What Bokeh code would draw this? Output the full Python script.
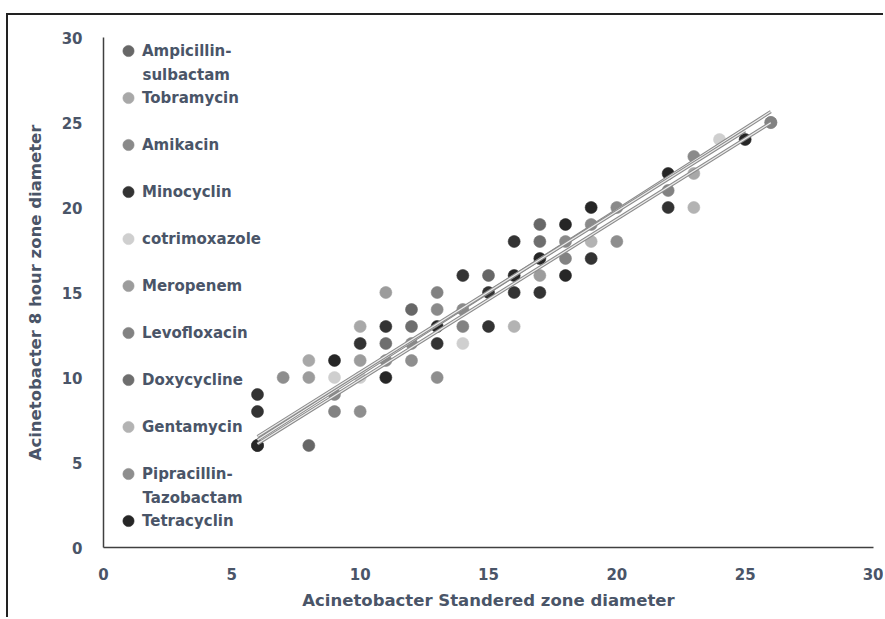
import numpy as np
from bokeh.plotting import figure
from bokeh.models import Range1d, Legend, LegendItem, Label, FixedTicker
from bokeh.embed import file_html
from bokeh.resources import INLINE

# ---------------- data ----------------
series_names = ["Ampicillin-sulbactam", "Tobramycin", "Amikacin", "Minocyclin",
                "cotrimoxazole", "Meropenem", "Levofloxacin", "Doxycycline",
                "Gentamycin", "Pipracillin-Tazobactam", "Tetracyclin"]
legend_first_lines = ["Ampicillin-", "Tobramycin", "Amikacin", "Minocyclin",
                      "cotrimoxazole", "Meropenem", "Levofloxacin", "Doxycycline",
                      "Gentamycin", "Pipracillin-", "Tetracyclin"]
legend_second_lines = {0: "sulbactam", 9: "Tazobactam"}

amp_x = [8, 12, 15, 17]
amp_y = [6, 14, 16, 19]
tob_x = [8, 10, 23]
tob_y = [11, 13, 22]
ami_x = [6, 9, 11, 12, 13, 14, 18, 19, 20, 23, 26]
ami_y = [6, 9, 11, 12, 14, 14, 18, 19, 20, 23, 25]
min_x = [6, 6, 10, 11, 13, 14, 15, 15, 16, 16, 17, 19, 22]
min_y = [8, 9, 12, 13, 12, 16, 13, 15, 15, 18, 15, 17, 20]
cot_x = [9, 10, 14, 24]
cot_y = [10, 10, 12, 24]
mer_x = [8, 10, 11, 17]
mer_y = [10, 11, 15, 16]
lev_x = [6, 9, 13, 14, 18, 22, 26]
lev_y = [6, 8, 15, 13, 17, 21, 25]
dox_x = [11, 12, 17]
dox_y = [12, 13, 18]
gen_x = [16, 19, 23]
gen_y = [13, 18, 20]
pip_x = [7, 10, 12, 13, 20]
pip_y = [10, 8, 11, 10, 18]
tet_x = [6, 9, 11, 13, 16, 17, 18, 18, 19, 22, 25]
tet_y = [6, 11, 10, 13, 16, 17, 16, 19, 20, 22, 24]

xs = [amp_x, tob_x, ami_x, min_x, cot_x, mer_x, lev_x, dox_x, gen_x, pip_x, tet_x]
ys = [amp_y, tob_y, ami_y, min_y, cot_y, mer_y, lev_y, dox_y, gen_y, pip_y, tet_y]
colors = ["#676767", "#a8a8a8", "#8a8a8a", "#333333", "#cfcfcf", "#9c9c9c",
          "#828282", "#6e6e6e", "#b3b3b3", "#8e8e8e", "#262626"]
trend_series = ["Amikacin", "Levofloxacin", "Tetracyclin"]

x_ticks = [0, 5, 10, 15, 20, 25, 30]
y_ticks = [0, 5, 10, 15, 20, 25, 30]

# ---------------- layout constants ----------------
OFF_X, OFF_Y = 8, 15          # outer picture frame (margin + 2px border)
W, H = 885 - OFF_X, 619 - OFF_Y
LEFT, RIGHT, TOP, BOTTOM = 103 - OFF_X, 12, 37 - OFF_Y, 72
TXT = "#4a5568"
FONT = "DejaVu Sans"

p = figure(width=W, height=H, output_backend="svg", toolbar_location=None,
           x_range=Range1d(0, 30), y_range=Range1d(0, 30),
           min_border_left=LEFT, min_border_right=RIGHT,
           min_border_top=TOP, min_border_bottom=BOTTOM,
           background_fill_color="white", border_fill_color="white",
           styles={"margin-left": "6px", "margin-top": "13px",
                   "border-left": "2px solid #222222",
                   "border-top": "2px solid #222222"})
p.outline_line_color = None
p.grid.visible = False

for ax, ticks in ((p.xaxis[0], x_ticks), (p.yaxis[0], y_ticks)):
    ax.ticker = FixedTicker(ticks=ticks)
    ax.major_tick_line_color = None
    ax.minor_tick_line_color = None
    ax.major_tick_out = 0
    ax.major_tick_in = 0
    ax.axis_line_color = "#404040"
    ax.axis_line_width = 1.5
    ax.major_label_text_font = FONT
    ax.major_label_text_font_style = "bold"
    ax.major_label_text_font_size = "15px"
    ax.major_label_text_color = TXT
    ax.axis_label_text_font = FONT
    ax.axis_label_text_font_style = "bold"
    ax.axis_label_text_font_size = "16.5px"
    ax.axis_label_text_color = TXT

p.xaxis.axis_label = "Acinetobacter Standered zone diameter"
p.yaxis.axis_label = "Acinetobacter 8 hour zone diameter"
p.xaxis.major_label_standoff = 20
p.yaxis.major_label_standoff = 21
p.xaxis.axis_label_standoff = 8
p.yaxis.axis_label_standoff = 14

renderers = []
for name, x, y, c in zip(series_names, xs, ys, colors):
    r = p.scatter(x, y, size=12, fill_color=c, line_color=c, line_alpha=0.6)
    renderers.append(r)

# linear trendlines (least squares fit of each chosen series)
for name, x, y in zip(series_names, xs, ys):
    if name in trend_series:
        k, b = np.polyfit(x, y, 1)
        lx = np.array([min(x), max(x)], dtype=float)
        ly = k * lx + b
        p.line(lx, ly, line_color="#8a8a8a", line_width=3.4)
        p.line(lx, ly, line_color="#ececec", line_width=1.2)

# legend
GLYPH_W, ITEM_H = 28, 47
items = [LegendItem(label=lab, renderers=[r]) for lab, r in zip(legend_first_lines, renderers)]
legend = Legend(items=items, location=(11, 3), orientation="vertical",
                glyph_width=GLYPH_W, glyph_height=ITEM_H, label_height=ITEM_H,
                spacing=0, padding=0, margin=0, label_standoff=0,
                background_fill_alpha=0, border_line_color=None,
                label_text_font=FONT, label_text_font_style="bold",
                label_text_font_size="15px", label_text_color=TXT)
p.add_layout(legend, "center")

# second lines of the two-line legend labels
frame_h = H - TOP - BOTTOM
frame_w = W - LEFT - RIGHT
first_center = frame_h - 3 - len(items) * ITEM_H + ITEM_H / 2  # px from frame top
for idx, txt in legend_second_lines.items():
    py = first_center + idx * ITEM_H + 23.5
    lab = Label(x=(11 + GLYPH_W) / frame_w * 30, y=(frame_h - py) / frame_h * 30,
                text=txt, text_font=FONT, text_font_style="bold",
                text_font_size="15px", text_color=TXT, text_baseline="middle")
    p.add_layout(lab)

open("out.html", "w").write(file_html(p, INLINE))
